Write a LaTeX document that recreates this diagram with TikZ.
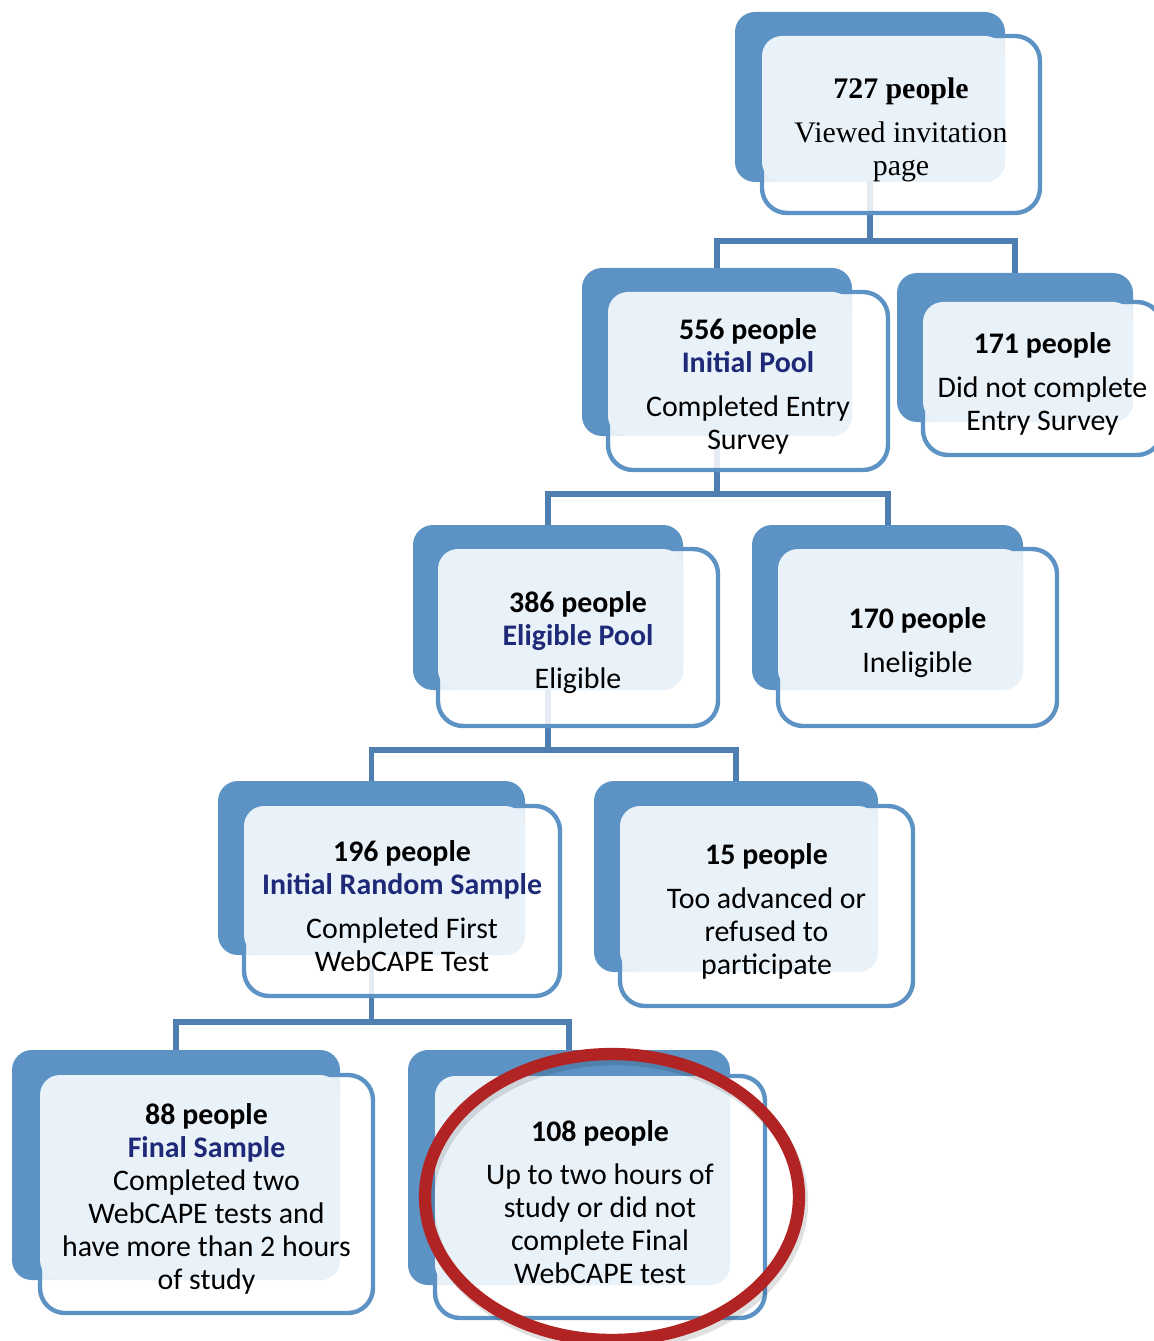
\documentclass[tikz,border=0pt]{standalone}
\usepackage{fontspec}
\setmainfont{Carlito}
\newfontfamily\serifbox{Liberation Serif}
\usepackage{tikz}
\usetikzlibrary{fit}

\definecolor{boxblue}{RGB}{92,146,196}
\definecolor{linkblue}{RGB}{79,127,176}
\definecolor{paleblue}{RGB}{234,242,249}
\definecolor{navy}{RGB}{30,42,120}
\definecolor{ringred}{RGB}{178,36,36}

\tikzset{
  back/.style={rectangle, fill=boxblue, rounded corners=0.4cm, inner sep=0pt},
  front/.style={rectangle, draw=boxblue, line width=2.5pt, fill=white, fill opacity=0.85, rounded corners=0.5cm, inner sep=0pt},
  pale/.style={rectangle, fill=paleblue, rounded corners=0.4cm, inner sep=0pt},
  txt/.style={align=center, yshift=-3pt, font=\fontsize{17}{18.8}\selectfont},
  link/.style={draw=linkblue, line width=3.4pt},
  ring/.style={draw=ringred, line width=7pt}
}

\begin{document}
\begin{tikzpicture}[x=0.02cm,y=-0.02cm]
            \useasboundingbox (0,0) rectangle (1153,1341);

            % junction heights
            \coordinate (j1) at (0,241);
            \coordinate (j2) at (0,494);
            \coordinate (j3) at (0,750);
            \coordinate (j4) at (0,1022);

            % Back plates
            \node[back, fit={(735,12) (1005,182)}] (b727) {};
            \node[back, fit={(582,268) (852,436)}] (b556) {};
            \node[back, fit={(897,273) (1133,422)}] (b171) {};
            \node[back, fit={(413,525) (683,690)}] (b386) {};
            \node[back, fit={(752,525) (1023,690)}] (b170) {};
            \node[back, fit={(218,781) (525,955)}] (b196) {};
            \node[back, fit={(594,781) (878,972)}] (b15) {};
            \node[back, fit={(12,1050) (340,1280)}] (b88) {};
            \node[back, fit={(408,1050) (730,1285)}] (b108) {};

            % The lines!
            \draw[link] (b727.south) -- (b727.south |- j1) -| (b556.north);
            \draw[link] (b727.south |- j1) -| (b171.north);
            \draw[link] (b556.south) -- (b556.south |- j2) -| (b386.north);
            \draw[link] (b556.south |- j2) -| (b170.north);
            \draw[link] (b386.south) -- (b386.south |- j3) -| (b196.north);
            \draw[link] (b386.south |- j3) -| (b15.north);
            \draw[link] (b196.south) -- (b196.south |- j4) -| (b88.north);
            \draw[link] (b196.south |- j4) -| (b108.north);

            % Front frames
            \node[front, fit={(762,36) (1040,213)}] (f727) {};
            \node[front, fit={(608,292) (888,470)}] (f556) {};
            \node[front, fit={(923,302) (1162,455)}] (f171) {};
            \node[front, fit={(438,549) (718,726)}] (f386) {};
            \node[front, fit={(778,549) (1057,726)}] (f170) {};
            \node[front, fit={(244,806) (560,996)}] (f196) {};
            \node[front, fit={(620,806) (913,1006)}] (f15) {};
            \node[front, fit={(40,1075) (373,1313)}] (f88) {};
            \node[front, fit={(435,1076) (765,1318)}] (f108) {};

            % Pale overlap
            \node[pale, fit={(762,36) (1005,182)}] (p727) {};
            \node[pale, fit={(608,292) (852,436)}] (p556) {};
            \node[pale, fit={(923,302) (1133,422)}] (p171) {};
            \node[pale, fit={(438,549) (683,690)}] (p386) {};
            \node[pale, fit={(778,549) (1023,690)}] (p170) {};
            \node[pale, fit={(244,806) (525,955)}] (p196) {};
            \node[pale, fit={(620,806) (878,972)}] (p15) {};
            \node[pale, fit={(40,1075) (340,1280)}] (p88) {};
            \node[pale, fit={(435,1076) (730,1285)}] (p108) {};

            % Texts
            \node[txt, font=\serifbox\fontsize{17}{18.8}\selectfont] (t727) at (f727) {\textbf{727 people}\\[6pt] Viewed invitation\\ page};
            \node[txt] (t556) at (f556) {\textbf{556 people}\\ \textcolor{navy}{\textbf{Initial Pool}}\\[6pt] Completed Entry\\ Survey};
            \node[txt] (t171) at (f171) {\textbf{171 people}\\[6pt] Did not complete\\ Entry Survey};
            \node[txt] (t386) at (f386) {\textbf{386 people}\\ \textcolor{navy}{\textbf{Eligible Pool}}\\[6pt] Eligible};
            \node[txt] (t170) at (f170) {\textbf{170 people}\\[6pt] Ineligible};
            \node[txt] (t196) at (f196) {\textbf{196 people}\\ \textcolor{navy}{\textbf{Initial Random Sample}}\\[6pt] Completed First\\ WebCAPE Test};
            \node[txt] (t15) at (f15) {\textbf{15 people}\\[6pt] Too advanced or\\ refused to\\ participate};
            \node[txt] (t88) at (f88) {\textbf{88 people}\\ \textcolor{navy}{\textbf{Final Sample}}\\ Completed two\\ WebCAPE tests and\\ have more than 2 hours\\ of study};
            \node[txt] (t108) at (f108) {\textbf{108 people}\\[6pt] Up to two hours of\\ study or did not\\ complete Final\\ WebCAPE test};

            % Red ring
            \draw[black, opacity=0.12, line width=7pt] (615,1202) ellipse [x radius=3.74cm, y radius=2.86cm];
            \draw[ring] (612,1197) ellipse [x radius=3.74cm, y radius=2.86cm];
        \end{tikzpicture}
\end{document}
